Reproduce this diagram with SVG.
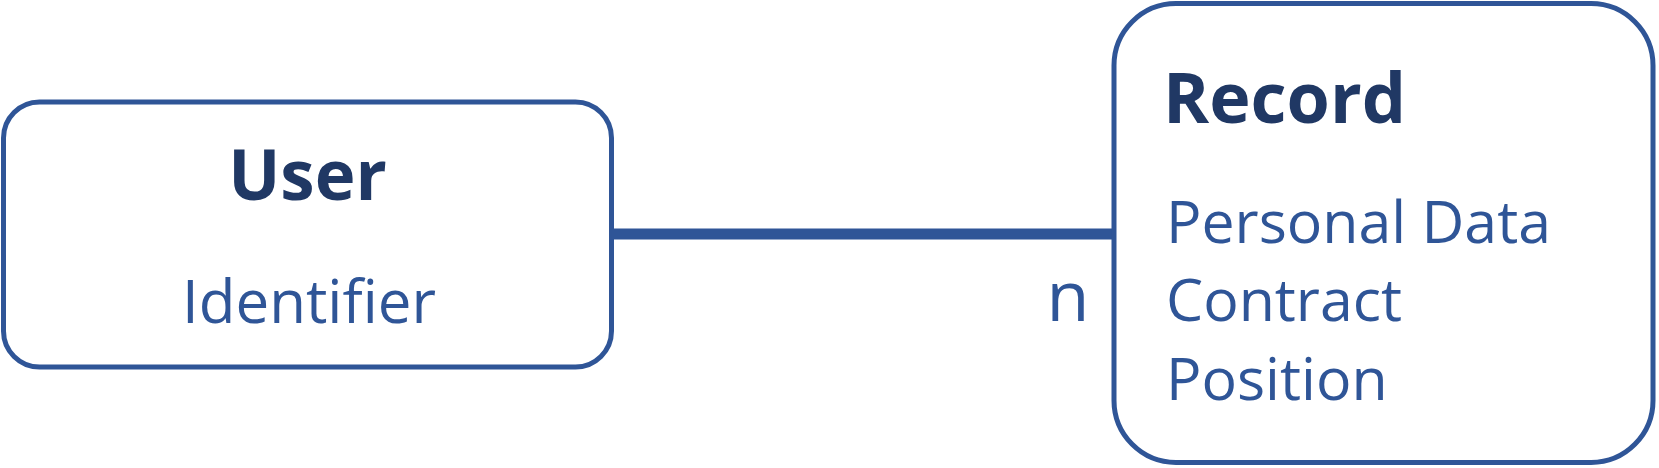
<svg xmlns="http://www.w3.org/2000/svg" width="1659" height="468" viewBox="0 0 1659 468">
  <style>
    .box { fill: none; stroke: #2F5597; stroke-width: 5; }
    .title { font-family: "Open Sans", "Liberation Sans", sans-serif; font-weight: 700; fill: #203864; }
    .attr { font-family: "Open Sans", "Liberation Sans", sans-serif; font-weight: 500; fill: #2F5597; }
    .conn { stroke: #2F5597; stroke-width: 11; fill: none; }
  </style>
  <g id="connectors">
    <line class="conn" x1="612" y1="234" x2="1113" y2="234"/>
    <text class="attr" x="1068" y="321" font-size="70" text-anchor="middle">n</text>
  </g>
  <g id="user">
    <rect class="box" x="3.5" y="102" width="608" height="265" rx="36" ry="36"/>
    <text class="title" x="307.5" y="200" font-size="69" text-anchor="middle">User</text>
    <text class="attr" x="309" y="323" font-size="60" text-anchor="middle">Identifier</text>
  </g>
  <g id="record">
    <rect class="box" x="1114" y="3.5" width="539" height="459" rx="62" ry="62"/>
    <text class="title" x="1163" y="123" font-size="70">Record</text>
    <text class="attr" x="1166" y="243" font-size="59">Personal Data</text>
    <text class="attr" x="1166" y="321" font-size="59">Contract</text>
    <text class="attr" x="1166" y="400" font-size="59">Position</text>
  </g>
</svg>
